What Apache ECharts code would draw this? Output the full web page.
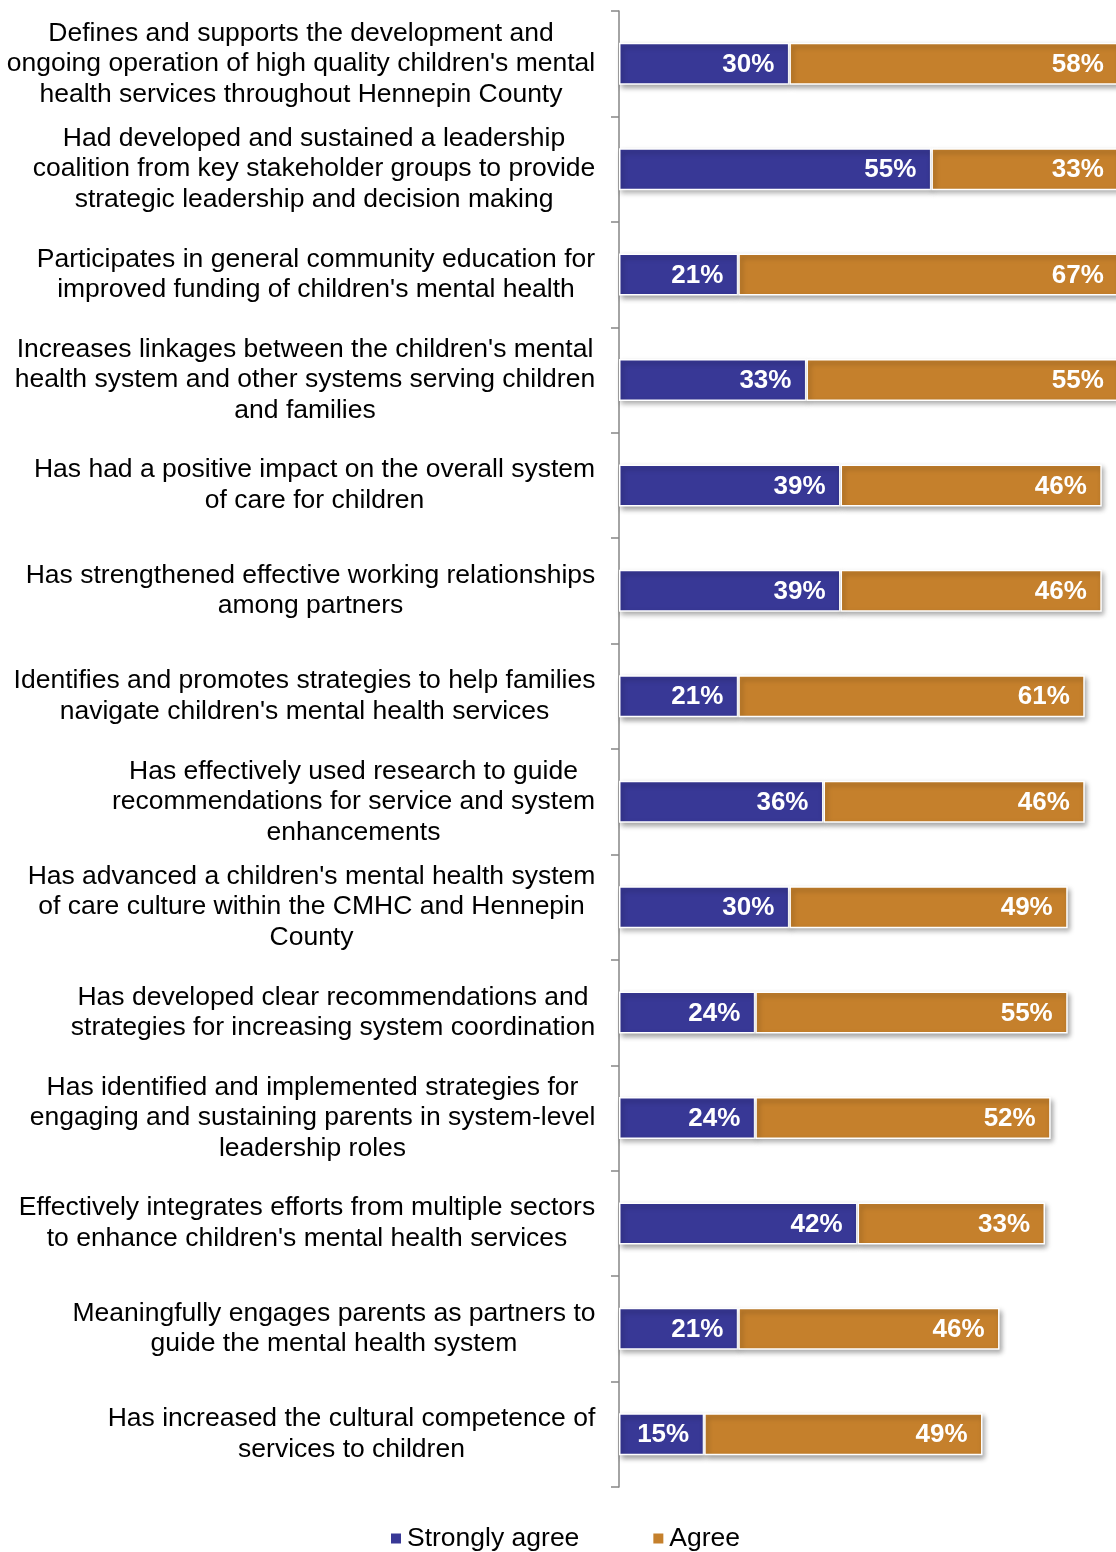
<!DOCTYPE html>
<html>
<head>
<meta charset="utf-8">
<title>Collaborative ratings</title>
<script src="https://cdn.jsdelivr.net/npm/echarts@6/dist/echarts.min.js"></script>
<style>
  html, body { margin: 0; padding: 0; background: #ffffff; }
  #chart { width: 1116px; height: 1552px; }
</style>
</head>
<body>
<div id="chart"></div>
<script>
// Statement wording, one entry per row (line breaks as printed)
var categories = [
  "Defines and supports the development and\nongoing operation of high quality children's mental\nhealth services throughout Hennepin County",
  "Had developed and sustained a leadership\ncoalition from key stakeholder groups to provide\nstrategic leadership and decision making",
  "Participates in general community education for\nimproved funding of children's mental health",
  "Increases linkages between the children's mental\nhealth system and other systems serving children\nand families",
  "Has had a positive impact on the overall system\nof care for children",
  "Has strengthened effective working relationships\namong partners",
  "Identifies and promotes strategies to help families\nnavigate children's mental health services",
  "Has effectively used research to guide\nrecommendations for service and system\nenhancements",
  "Has advanced a children's mental health system\nof care culture within the CMHC and Hennepin\nCounty",
  "Has developed clear recommendations and\nstrategies for increasing system coordination",
  "Has identified and implemented strategies for\nengaging and sustaining parents in system-level\nleadership roles",
  "Effectively integrates efforts from multiple sectors\nto enhance children's mental health services",
  "Meaningfully engages parents as partners to\nguide the mental health system",
  "Has increased the cultural competence of\nservices to children"
];

// Percent of respondents
var stronglyAgree = [30, 55, 21, 33, 39, 39, 21, 36, 30, 24, 24, 42, 21, 15];
var agree         = [58, 33, 67, 55, 46, 46, 61, 46, 49, 55, 52, 33, 46, 49];

var seriesNames = ["Strongly agree", "Agree"];

var FONT = '"Liberation Sans", Arial, Helvetica, sans-serif';
var LABEL_SIZE = 26.5;

// Measure each label block so its lines can be centred on the widest line
var ctx = document.createElement('canvas').getContext('2d');
ctx.font = LABEL_SIZE + 'px ' + FONT;
var rich = {};
categories.forEach(function (c, i) {
  var w = 0;
  c.split('\n').forEach(function (line) {
    w = Math.max(w, ctx.measureText(line).width);
  });
  rich['c' + i] = {
    width: Math.ceil(w) + 1,
    align: 'center',
    fontSize: LABEL_SIZE,
    lineHeight: 30.5,
    fontFamily: FONT,
    color: '#000000'
  };
});

var barShadow = {
  shadowColor: 'rgba(0,0,0,0.35)',
  shadowBlur: 5,
  shadowOffsetX: 2,
  shadowOffsetY: 3,
  borderColor: '#ffffff',
  borderWidth: 1.5
};

var valueLabel = {
  show: true,
  position: 'insideRight',
  distance: 15,
  offset: [0, 1],
  color: '#ffffff',
  fontSize: 26,
  fontWeight: 'bold',
  fontFamily: FONT,
  formatter: '{c}%'
};

var chart = echarts.init(document.getElementById('chart'), null, { renderer: 'canvas' });

chart.setOption({
  animation: false,
  backgroundColor: '#ffffff',
  grid: { left: 619, top: 11, right: 0, height: 1476, containLabel: false },
  legend: {
    data: seriesNames,
    left: 384,
    top: 1520,
    itemWidth: 12,
    itemHeight: 12,
    itemGap: 72,
    icon: 'rect',
    textStyle: { fontSize: LABEL_SIZE, fontFamily: FONT, color: '#000000' }
  },
  xAxis: {
    type: 'value',
    min: 0,
    max: 87.5,
    show: false
  },
  yAxis: {
    type: 'category',
    inverse: true,
    data: categories,
    axisLine: { show: true, lineStyle: { color: '#868686', width: 1.5 } },
    axisTick: { show: true, length: 8, lineStyle: { color: '#868686', width: 1.5 } },
    axisLabel: {
      margin: 23,
      formatter: function (value, idx) {
        return value.split('\n').map(function (line) {
          return '{c' + idx + '|' + line + '}';
        }).join('\n');
      },
      rich: rich
    },
    splitLine: { show: false }
  },
  series: [
    {
      name: seriesNames[0],
      type: 'bar',
      stack: 'total',
      barWidth: 42,
      clip: false,
      data: stronglyAgree,
      itemStyle: Object.assign({ color: '#383896' }, barShadow),
      label: valueLabel
    },
    {
      name: seriesNames[1],
      type: 'bar',
      stack: 'total',
      barWidth: 42,
      clip: false,
      data: agree,
      itemStyle: Object.assign({ color: '#c5802c' }, barShadow),
      label: valueLabel
    }
  ]
});
</script>
</body>
</html>
